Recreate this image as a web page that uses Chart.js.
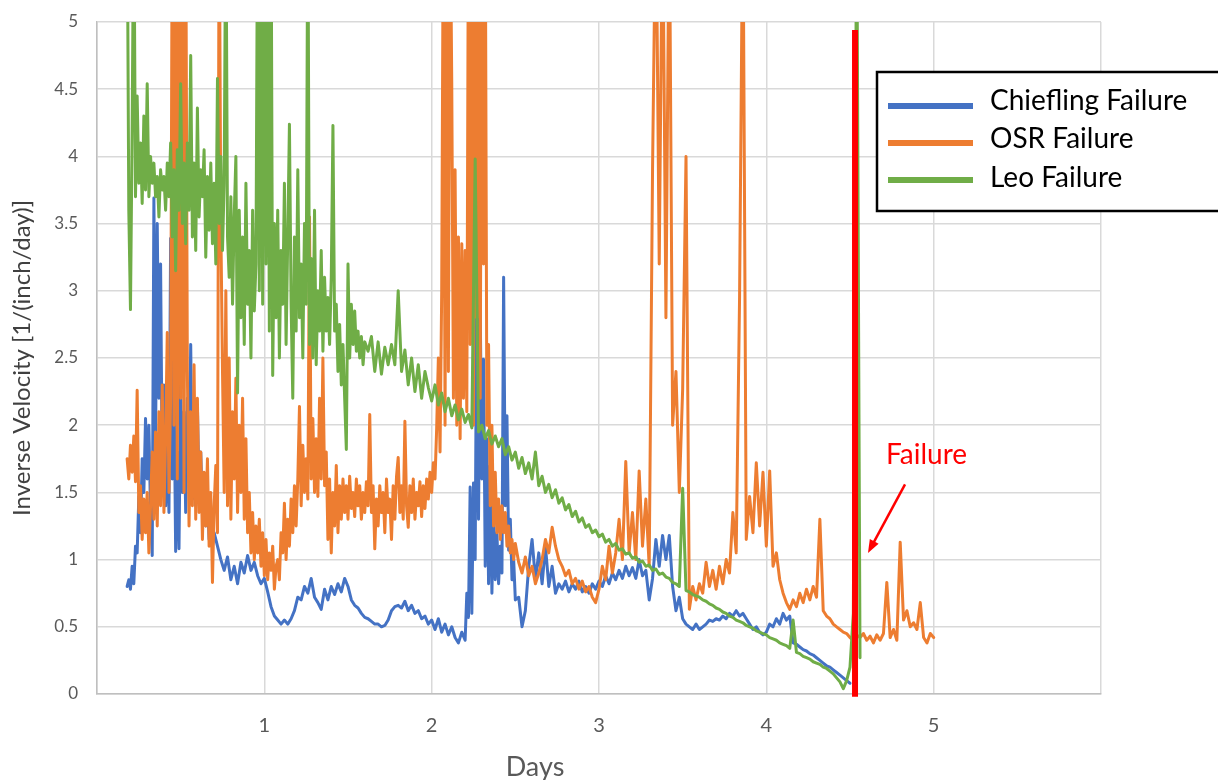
<!DOCTYPE html>
<html>
<head>
<meta charset="utf-8">
<script src="https://cdn.jsdelivr.net/npm/chart.js@4.4.1/dist/chart.umd.min.js"></script>
<style>
  html, body { margin: 0; padding: 0; background: #fff; }
  #wrap { width: 1218px; height: 780px; }
</style>
</head>
<body>
<div id="wrap"><canvas id="myChart" width="1218" height="780"></canvas></div>
<script>
// Chiefling inverse velocity, 1/(inch/day)
// every 0.01 day from day 0.18 to 0.70
var chieflingA = [
  0.80,0.85,0.78,0.95,0.82,1.10,1.05,1.47,1.20,1.75,
  1.50,2.05,1.60,2.00,1.35,1.03,3.69,1.90,3.50,2.20,
  3.20,1.60,2.30,1.40,1.85,1.35,3.39,1.60,2.35,1.06,
  1.80,1.08,2.30,1.50,2.10,1.35,2.20,1.60,2.60,1.45,
  2.00,1.40,2.15,1.50,1.80,1.35,1.60,1.25,1.45,1.15,
  1.30,1.10,1.20
];
// every 0.02 day from day 0.72 to 2.18
var chieflingB = [
  1.10,1.00,0.92,
  1.02,0.85,0.95,0.82,0.98,0.90,1.03,0.92,0.98,0.88,
  0.82,0.86,0.76,0.65,0.58,0.55,0.52,0.55,0.52,0.56,
  0.62,0.72,0.70,0.80,0.75,0.86,0.72,0.68,0.63,0.78,
  0.70,0.80,0.74,0.82,0.76,0.86,0.80,0.70,0.66,0.64,
  0.60,0.57,0.56,0.54,0.52,0.52,0.50,0.51,0.55,0.62,
  0.65,0.66,0.64,0.69,0.62,0.66,0.60,0.62,0.56,0.58,
  0.52,0.55,0.48,0.56,0.46,0.52,0.44,0.50,0.42,0.38,
  0.46
];
// every 0.01 day from day 2.20 to 2.50
var chieflingC = [
  0.40,0.75,0.57,1.54,0.60,1.57,1.00,3.20,1.30,2.90,
  1.60,2.49,0.95,1.90,0.82,1.70,0.75,1.40,0.85,1.20,
  0.82,1.10,0.90,3.10,1.40,2.07,1.07,1.30,0.85,1.00,
  0.70
];
// every 0.02 day from day 2.52 to 4.50
var chieflingD = [
  0.72,0.50,0.62,
  0.95,1.15,0.85,1.05,0.82,1.10,0.80,0.95,0.75,0.82,
  0.78,0.84,0.76,0.82,0.78,0.84,0.76,0.80,0.75,0.82,
  0.78,0.84,0.80,0.88,0.82,0.90,0.85,0.92,0.86,0.95,
  0.88,0.94,0.86,1.00,0.88,0.92,0.70,0.86,1.15,0.95,
  1.18,1.00,1.18,0.80,0.62,0.72,0.56,0.52,0.50,0.48,
  0.52,0.48,0.50,0.52,0.55,0.54,0.56,0.55,0.58,0.56,
  0.60,0.58,0.62,0.58,0.60,0.56,0.52,0.48,0.50,0.46,
  0.44,0.46,0.52,0.50,0.56,0.52,0.60,0.55,0.58,0.38,
  0.37,0.35,0.33,0.32,0.30,0.29,0.27,0.25,0.23,0.21,
  0.20,0.18,0.16,0.14,0.12,0.10,0.08
];

// OSR: every 0.01 day from day 0.18 to 2.50
var osrEarly = [
  1.75,1.60,1.85,1.65,1.92,1.58,2.26,1.35,1.55,1.15,
  1.45,1.20,1.50,1.05,1.40,1.80,1.30,1.95,1.25,2.10,
  1.40,2.30,1.35,1.90,2.69,1.50,2.20,6.00,2.00,6.00,
  1.60,6.00,2.20,6.00,1.50,6.00,2.40,1.25,2.10,1.40,
  2.45,1.30,2.20,1.35,1.80,1.15,1.65,1.25,1.75,1.10,
  1.50,0.83,1.40,1.70,1.20,6.00,3.50,2.40,1.50,3.00,
  1.40,2.50,1.30,2.10,1.60,2.35,1.35,2.00,1.50,2.20,
  1.30,1.90,1.20,1.50,1.05,1.35,1.00,1.25,1.05,1.30,
  0.95,1.20,0.88,1.15,0.85,1.05,0.92,1.10,0.78,0.95,
  1.00,0.85,1.20,1.05,1.42,1.00,1.30,1.10,1.45,1.20,
  1.55,1.25,1.60,2.14,1.40,1.85,1.50,1.75,1.45,3.55,
  1.60,2.05,1.50,1.90,1.47,2.20,1.60,2.50,1.55,1.80,
  1.15,1.60,1.05,1.50,1.25,1.70,1.20,1.55,1.30,1.60,
  1.35,1.55,1.30,1.62,1.38,1.50,1.32,1.60,1.40,1.55,
  1.30,1.50,1.35,1.58,1.40,2.08,1.35,1.55,1.08,1.45,
  1.25,1.55,1.35,1.50,1.20,1.60,1.35,1.45,1.15,1.55,
  1.30,1.62,1.76,1.35,1.55,1.30,2.03,1.40,1.24,1.55,
  1.35,1.60,1.30,1.50,1.40,1.58,1.32,1.55,1.38,1.60,
  1.45,1.65,1.50,1.72,1.60,1.98,2.50,1.80,3.00,6.00,
  2.00,6.00,2.40,6.00,4.55,2.20,3.90,2.00,3.40,1.90,
  3.35,2.20,3.30,2.10,6.00,2.60,6.00,2.00,6.00,2.80,
  6.00,2.20,6.00,3.20,6.00,2.00,2.60,1.40,2.00,1.25,
  1.65,1.20,1.45,1.15,1.40,1.20,1.35,1.10,1.25,1.05,
  1.15,1.00,1.12
];
// every 0.02 day from day 2.52 to 5.00
var osrLate = [
  0.98,0.90,1.02,
  0.88,0.95,0.82,0.90,1.00,1.15,1.05,1.24,1.10,1.00,
  0.95,0.88,0.92,0.82,0.86,0.78,0.84,0.76,0.80,0.72,
  0.68,0.78,0.95,0.85,1.10,0.90,1.05,1.30,1.00,1.73,
  1.05,1.35,1.00,1.66,1.10,1.45,0.95,3.90,6.00,3.20,
  6.00,2.80,6.00,2.00,2.40,1.50,2.27,4.00,0.63,0.80,
  0.70,0.82,0.75,0.98,0.80,0.92,0.78,0.95,0.82,1.00,
  0.90,1.35,1.05,2.95,6.00,1.15,1.47,1.20,1.72,1.25,
  1.65,1.10,1.66,0.95,1.05,0.85,0.75,0.68,0.63,0.70,
  0.65,0.75,0.68,0.78,0.70,0.80,0.72,1.30,0.62,0.58,
  0.56,0.52,0.50,0.48,0.46,0.45,0.42,0.40,0.44,0.42,
  0.45,0.40,0.43,0.38,0.44,0.40,0.45,0.83,0.42,0.48,
  0.40,1.13,0.55,0.62,0.50,0.53,0.48,0.68,0.42,0.38,
  0.45,0.42
];

// Leo: every 0.01 day from day 0.18 to 1.60
var leoEarly = [
  6.00,3.60,2.86,4.20,6.00,3.70,4.45,3.80,4.10,3.65,
  4.30,3.75,4.54,3.70,4.00,3.80,3.95,3.70,3.85,3.55,
  3.90,3.75,3.85,3.60,3.95,3.70,4.10,3.40,3.90,3.15,
  4.05,3.60,4.54,3.50,3.95,3.35,4.10,3.60,4.75,3.40,
  3.95,3.30,4.36,3.55,3.90,3.70,4.05,3.25,3.85,3.45,
  3.95,3.35,3.80,3.20,4.58,3.50,4.00,3.30,3.80,6.00,
  3.40,3.10,3.70,2.90,3.55,4.00,2.24,3.60,2.80,3.40,
  2.60,3.80,2.90,3.30,2.50,3.60,2.85,3.20,6.00,3.00,
  6.00,2.90,6.00,3.20,6.00,2.70,6.00,2.37,3.50,2.80,
  3.60,2.50,3.30,2.90,3.80,2.60,3.40,4.24,2.90,2.20,
  3.40,2.70,3.90,2.80,3.20,2.50,3.50,2.90,6.00,2.60,
  3.24,2.50,3.60,2.45,3.00,2.70,3.30,2.55,3.10,2.70,
  2.95,2.60,3.10,4.23,2.70,2.90,2.40,2.75,2.30,2.60,
  2.20,1.82,3.20,2.50,2.90,2.60,2.85,2.55,2.70,2.50,
  2.66,2.45,2.62
];
// every 0.02 day from day 1.62 to 4.56
var leoLate = [
  2.55,2.66,2.40,2.62,2.38,2.58,2.45,2.60,
  2.45,3.00,2.40,2.56,2.30,2.50,2.25,2.45,2.20,2.40,
  2.28,2.18,2.30,2.15,2.24,2.10,2.20,2.07,2.15,2.04,
  2.12,2.02,2.08,1.98,3.98,1.95,2.00,1.90,1.96,1.86,
  1.92,1.84,1.90,1.78,1.84,1.74,1.80,1.68,1.76,1.64,
  1.72,1.60,1.80,1.55,1.62,1.50,1.56,1.46,1.52,1.42,
  1.46,1.37,1.41,1.32,1.36,1.28,1.31,1.24,1.26,1.20,
  1.22,1.17,1.19,1.13,1.15,1.10,1.12,1.07,1.08,1.04,
  1.05,1.01,1.02,0.98,0.99,0.95,0.96,0.92,0.93,0.89,
  0.90,0.87,0.86,0.83,0.82,0.80,1.53,0.77,0.76,0.74,
  0.73,0.72,0.70,0.69,0.67,0.66,0.64,0.63,0.61,0.60,
  0.58,0.57,0.55,0.54,0.53,0.51,0.50,0.49,0.47,0.46,
  0.45,0.44,0.42,0.41,0.40,0.38,0.37,0.36,0.34,0.55,
  0.31,0.30,0.28,0.27,0.26,0.24,0.23,0.22,0.20,0.19,
  0.17,0.15,0.12,0.09,0.04,0.10,0.20,0.60,6.00,0.27
];

// failure marker: day and the span of the red line
var failureDay = 4.53;
var failureSpan = [4.94, -0.02];

// only these days carry a label on the x axis
var dayLabels = [1, 2, 3, 4, 5];

function toPoints(values, start, step) {
  return values.map(function (v, i) {
    return { x: +(start + i * step).toFixed(2), y: v };
  });
}

var seriesStyle = {
  borderWidth: 3,
  pointRadius: 0,
  tension: 0,
  borderJoinStyle: 'round',
  borderCapStyle: 'round'
};

// legend box, "Failure" note with arrow, and the x axis title
var notes = {
  id: 'notes',
  afterDraw: function (chart) {
    var ctx = chart.ctx;
    var area = chart.chartArea;
    var xs = chart.scales.x, ys = chart.scales.y;
    ctx.save();

    // legend
    var bx = area.right - 224, by = area.top + 50;
    ctx.fillStyle = '#ffffff';
    ctx.fillRect(bx, by, 400, 139);
    ctx.lineWidth = 2.5;
    ctx.strokeStyle = '#000000';
    ctx.strokeRect(bx, by, 400, 139);
    ctx.font = '28px Lato';
    ctx.textBaseline = 'alphabetic';
    ctx.textAlign = 'left';
    var rows = [[34, 38], [71, 76], [108, 115]];
    chart.data.datasets.filter(function (d) { return d.inLegend; }).forEach(function (d, i) {
      ctx.strokeStyle = d.borderColor;
      ctx.lineWidth = 6;
      ctx.beginPath();
      ctx.moveTo(bx + 11, by + rows[i][0]);
      ctx.lineTo(bx + 96, by + rows[i][0]);
      ctx.stroke();
      ctx.fillStyle = '#000000';
      ctx.fillText(d.label, bx + 113, by + rows[i][1]);
    });

    // failure note
    var fx = xs.getPixelForValue(failureDay);
    ctx.fillStyle = '#ff0000';
    ctx.strokeStyle = '#ff0000';
    ctx.fillText('Failure', fx + 31, ys.getPixelForValue(1.71));
    var tailX = fx + 50, tailY = ys.getPixelForValue(1.56);
    var tipX = fx + 13, tipY = ys.getPixelForValue(1.05);
    var ang = Math.atan2(tipY - tailY, tipX - tailX);
    ctx.lineWidth = 2.5;
    ctx.beginPath();
    ctx.moveTo(tailX, tailY);
    ctx.lineTo(tipX - 8 * Math.cos(ang), tipY - 8 * Math.sin(ang));
    ctx.stroke();
    ctx.beginPath();
    ctx.moveTo(tipX, tipY);
    ctx.lineTo(tipX - 13 * Math.cos(ang) + 5 * Math.sin(ang), tipY - 13 * Math.sin(ang) - 5 * Math.cos(ang));
    ctx.lineTo(tipX - 13 * Math.cos(ang) - 5 * Math.sin(ang), tipY - 13 * Math.sin(ang) + 5 * Math.cos(ang));
    ctx.closePath();
    ctx.fill();

    // x axis title
    ctx.fillStyle = '#595959';
    ctx.textAlign = 'center';
    ctx.font = '27px Lato';
    ctx.fillText('Days', area.left + 438, area.bottom + 82);

    ctx.restore();
  }
};

var ctx = document.getElementById('myChart').getContext('2d');
var chart = new Chart(ctx, {
  type: 'line',
  data: {
    datasets: [
      Object.assign({
        label: 'Chiefling Failure',
        data: toPoints(chieflingA, 0.18, 0.01)
          .concat(toPoints(chieflingB, 0.72, 0.02))
          .concat(toPoints(chieflingC, 2.20, 0.01))
          .concat(toPoints(chieflingD, 2.52, 0.02)),
        borderColor: '#4472C4', order: 3, inLegend: true
      }, seriesStyle),
      Object.assign({
        label: 'OSR Failure',
        data: toPoints(osrEarly, 0.18, 0.01).concat(toPoints(osrLate, 2.52, 0.02)),
        borderColor: '#ED7D31', order: 2, inLegend: true
      }, seriesStyle),
      Object.assign({
        label: 'Leo Failure',
        data: toPoints(leoEarly, 0.18, 0.01).concat(toPoints(leoLate, 1.62, 0.02)),
        borderColor: '#70AD47', order: 1, inLegend: true
      }, seriesStyle),
      {
        label: 'Failure',
        data: failureSpan.map(function (v) { return { x: failureDay, y: v }; }),
        borderColor: '#ff0000',
        borderWidth: 6,
        pointRadius: 0,
        borderCapStyle: 'butt',
        clip: false,
        order: 0
      }
    ]
  },
  options: {
    responsive: false,
    animation: false,
    devicePixelRatio: 1,
    layout: { padding: { left: 0, right: 117, top: 22, bottom: 0 } },
    plugins: {
      legend: { display: false },
      tooltip: { enabled: false }
    },
    scales: {
      x: {
        type: 'linear',
        min: 0,
        max: 6,
        afterFit: function (s) { s.height = 86; s.paddingLeft = 0; s.paddingRight = 0; },
        grid: { color: '#d9d9d9', lineWidth: 1.5, drawTicks: false },
        border: { color: '#bfbfbf', width: 1.5 },
        ticks: {
          stepSize: 1,
          autoSkip: false,
          padding: 20,
          color: '#595959',
          font: { family: 'Lato', size: 20 },
          callback: function (v) { return dayLabels.indexOf(v) >= 0 ? String(v) : ''; }
        }
      },
      y: {
        min: 0,
        max: 5,
        afterFit: function (s) { s.width = 97; s.paddingTop = 0; s.paddingBottom = 0; },
        grid: { color: '#d9d9d9', lineWidth: 1.5, drawTicks: false },
        border: { color: '#bfbfbf', width: 1.5 },
        ticks: {
          stepSize: 0.5,
          padding: 19,
          color: '#595959',
          font: { family: 'Lato', size: 17 },
          callback: function (v) { return String(+v.toFixed(1)); }
        },
        title: {
          display: true,
          text: 'Inverse Velocity [1/(inch/day)]',
          color: '#404040',
          font: { family: 'Lato', size: 24 },
          padding: { top: 8, bottom: 0 }
        }
      }
    }
  },
  plugins: [notes]
});
</script>
</body>
</html>
